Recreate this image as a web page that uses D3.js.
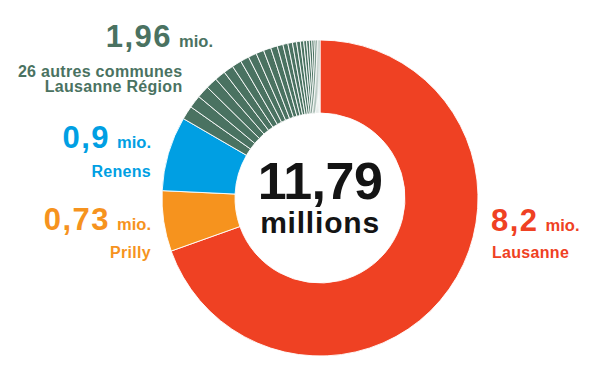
<!DOCTYPE html>
<html>
<head>
<meta charset="utf-8">
<script src="https://cdn.jsdelivr.net/npm/d3@7"></script>
<style>
  body{margin:0;background:#fff;}
  svg{display:block;font-family:"Liberation Sans",Arial,Helvetica,sans-serif;font-weight:bold;}
</style>
</head>
<body>
<div id="chart"></div>
<script>
const width = 600;
const height = 367;

// millions CHF
const mainNames = ["Lausanne", "Prilly", "Renens"];
const mainValues = [8.2, 0.73, 0.9];
const mainColors = ["#EF4123", "#F6931E", "#009FE3"];
const otherLabel = ["26 autres communes", "Lausanne Région"];
const otherTotal = 1.96;
const otherValues = [0.165, 0.155, 0.15, 0.14, 0.13, 0.12, 0.115, 0.105, 0.10, 0.095,
  0.09, 0.08, 0.07, 0.06, 0.055, 0.05, 0.045, 0.04, 0.035, 0.032,
  0.03, 0.027, 0.023, 0.02, 0.016, 0.012];
const otherColor = "#4A7261";
const totalText = "11,79";
const totalUnit = "millions";

const cx = 320, cy = 198;
const outerR = 158, innerR = 85;

const slices = [];
mainNames.forEach((n, i) => slices.push({name: n, value: mainValues[i], color: mainColors[i]}));
otherValues.forEach((v, i) => slices.push({name: "autre " + (i + 1), value: v, color: otherColor}));

const svg = d3.select("#chart").append("svg")
  .attr("width", width)
  .attr("height", height);

const pie = d3.pie().sort(null).value(d => d.value);
const arc = d3.arc().innerRadius(innerR).outerRadius(outerR);

const g = svg.append("g").attr("transform", "translate(" + cx + "," + cy + ")");
g.selectAll("path")
  .data(pie(slices))
  .enter()
  .append("path")
  .attr("d", arc)
  .attr("fill", d => d.data.color)
  .attr("stroke", "#fff")
  .attr("stroke-width", 0.9);

// centre
const centre = g.append("text")
  .attr("text-anchor", "middle")
  .attr("fill", "#141414");
centre.append("tspan")
  .attr("x", 0).attr("y", 1.3)
  .style("font-size", "52px")
  .style("letter-spacing", "-0.5px")
  .text(totalText);
centre.append("tspan")
  .attr("x", 0).attr("y", 35.3)
  .style("font-size", "30px")
  .style("letter-spacing", "0.8px")
  .text(totalUnit);

function fmt(v){ return String(v).replace(".", ","); }

function valueLabel(x, y, value, color, anchor){
  const t = svg.append("text")
    .attr("x", x).attr("y", y)
    .attr("text-anchor", anchor)
    .attr("fill", color);
  t.append("tspan").style("font-size", "31px").style("letter-spacing", "1.5px").text(fmt(value));
  t.append("tspan").attr("dx", 7).style("font-size", "16.5px").text("mio.");
}
function nameLabel(x, y, lines, color, anchor){
  const t = svg.append("text")
    .attr("x", x).attr("y", y)
    .attr("text-anchor", anchor)
    .attr("fill", color)
    .style("font-size", "16px")
    .style("letter-spacing", "0.3px");
  lines.forEach((l, i) => {
    t.append("tspan").attr("x", x).attr("dy", i === 0 ? 0 : 14.7).text(l);
  });
}

// autres communes
valueLabel(213, 46.5, otherTotal, otherColor, "end");
nameLabel(182.5, 77.3, otherLabel, otherColor, "end");
// Renens
valueLabel(151, 147.5, mainValues[2], mainColors[2], "end");
nameLabel(151, 176.7, [mainNames[2]], mainColors[2], "end");
// Prilly
valueLabel(151, 230, mainValues[1], mainColors[1], "end");
nameLabel(151, 258.3, [mainNames[1]], mainColors[1], "end");
// Lausanne
valueLabel(491, 231, mainValues[0], mainColors[0], "start");
nameLabel(492, 258.3, [mainNames[0]], mainColors[0], "start");
</script>
</body>
</html>
